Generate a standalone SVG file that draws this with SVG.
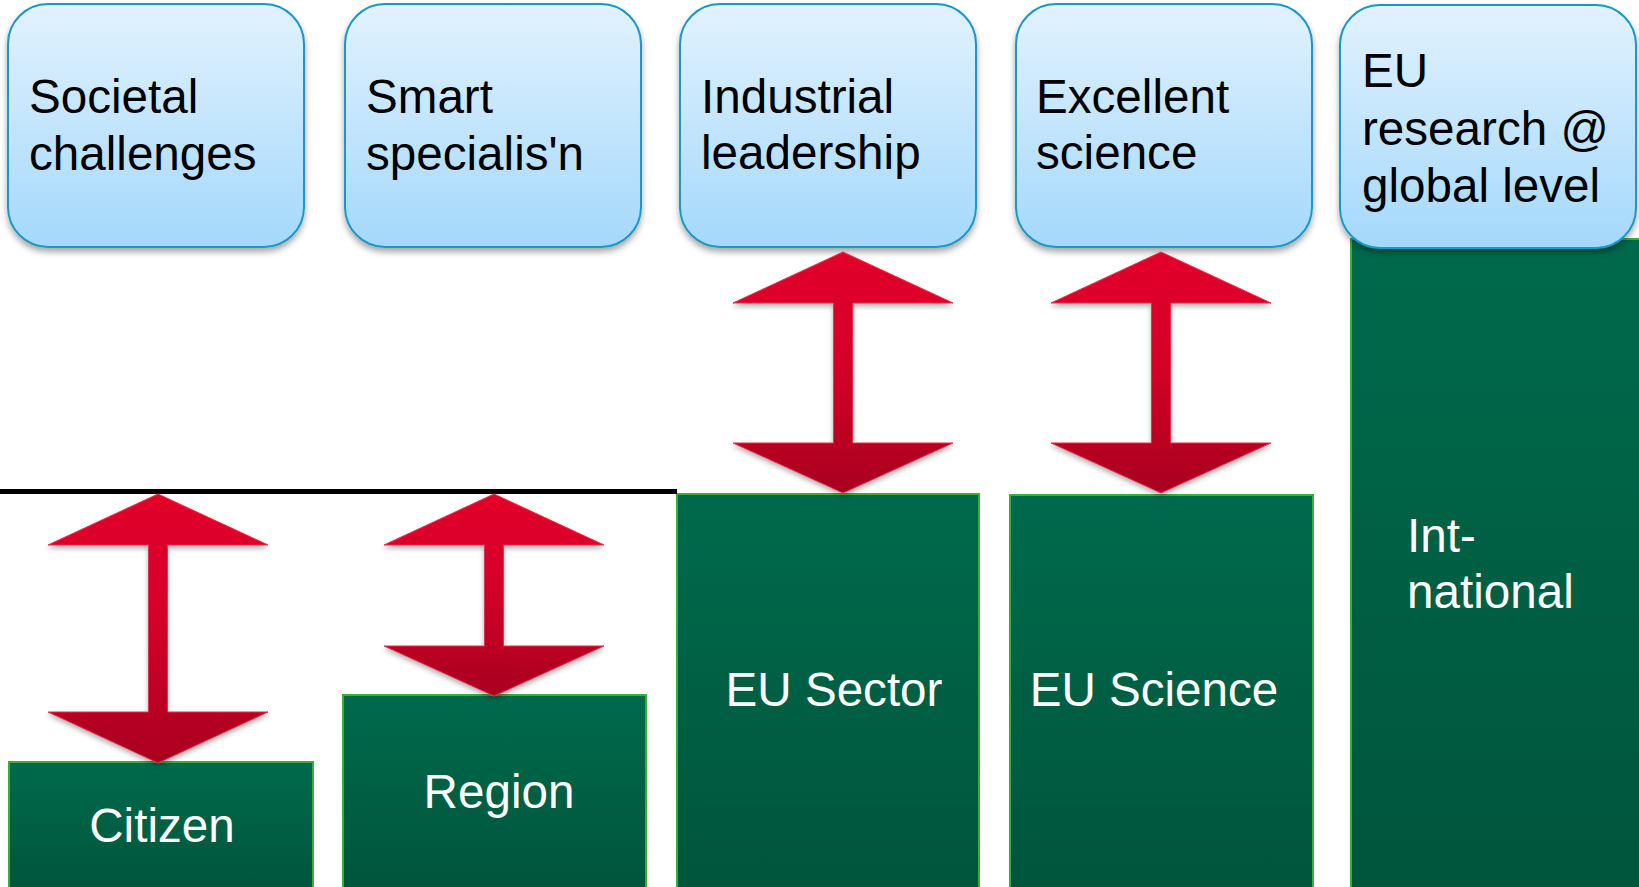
<svg xmlns="http://www.w3.org/2000/svg" width="1639" height="887" viewBox="0 0 1639 887">
  <defs>
    <linearGradient id="gBlue" x1="0" y1="0" x2="0" y2="1">
      <stop offset="0" stop-color="#e2f2fd"/>
      <stop offset="1" stop-color="#a4d8fb"/>
    </linearGradient>
    <linearGradient id="gGreen" x1="0" y1="0" x2="0" y2="1">
      <stop offset="0" stop-color="#006a4c"/>
      <stop offset="1" stop-color="#00553b"/>
    </linearGradient>
    <linearGradient id="gRed" x1="0" y1="0" x2="0" y2="1">
      <stop offset="0" stop-color="#e2002b"/>
      <stop offset="0.5" stop-color="#d20028"/>
      <stop offset="1" stop-color="#a8001f"/>
    </linearGradient>
    <filter id="shadow" x="-10%" y="-10%" width="120%" height="130%">
      <feDropShadow dx="0" dy="4" stdDeviation="3" flood-color="#000" flood-opacity="0.35"/>
    </filter>
    <filter id="ashadow" x="-10%" y="-10%" width="120%" height="130%">
      <feDropShadow dx="0" dy="3" stdDeviation="2.5" flood-color="#000" flood-opacity="0.3"/>
    </filter>
  </defs>
  <style>
    .top rect { fill: url(#gBlue); stroke: #1a98c6; stroke-width: 2; filter: url(#shadow); }
    .top text { font-family: "Liberation Sans", Arial, sans-serif; font-size: 47.6px; fill: #000; }
    .base rect { fill: url(#gGreen); stroke: #3cae38; stroke-width: 2; }
    .base text { font-family: "Liberation Sans", Arial, sans-serif; font-size: 47.6px; fill: #fff; }
    .arrow { fill: url(#gRed); stroke: #e8304c; stroke-width: 1; filter: url(#ashadow); }
  </style>
  <rect width="1639" height="887" fill="#fff"/>

  <!-- bottom green boxes -->
  <g id="citizen" class="base">
    <rect x="9" y="762" width="304" height="130"/>
    <text x="162" y="842" text-anchor="middle">Citizen</text>
  </g>
  <g id="region" class="base">
    <rect x="343" y="695" width="303" height="195"/>
    <text x="499" y="808" text-anchor="middle">Region</text>
  </g>
  <g id="eu-sector" class="base">
    <rect x="677" y="494" width="302" height="396"/>
    <text x="834" y="706" text-anchor="middle">EU Sector</text>
  </g>
  <g id="eu-science" class="base">
    <rect x="1010" y="495" width="303" height="395"/>
    <text x="1154" y="706" text-anchor="middle">EU Science</text>
  </g>
  <g id="international" class="base">
    <rect x="1351" y="239" width="295" height="651"/>
    <text x="1407" y="552">Int-</text>
    <text x="1407" y="608">national</text>
  </g>

  <!-- top blue boxes -->
  <g id="societal" class="top">
    <rect x="8" y="4" width="296" height="243" rx="40"/>
    <text x="29" y="113">Societal</text>
    <text x="29" y="170">challenges</text>
  </g>
  <g id="smart" class="top">
    <rect x="345" y="4" width="296" height="243" rx="40"/>
    <text x="366" y="113">Smart</text>
    <text x="366" y="170">specialis'n</text>
  </g>
  <g id="industrial" class="top">
    <rect x="680" y="4" width="296" height="243" rx="40"/>
    <text x="701" y="113">Industrial</text>
    <text x="701" y="169">leadership</text>
  </g>
  <g id="excellent" class="top">
    <rect x="1016" y="4" width="296" height="243" rx="40"/>
    <text x="1036" y="113">Excellent</text>
    <text x="1036" y="169">science</text>
  </g>
  <g id="eu-research" class="top">
    <rect x="1340" y="5" width="296" height="243" rx="40"/>
    <text x="1362" y="87">EU</text>
    <text x="1362" y="145">research @</text>
    <text x="1362" y="202">global level</text>
  </g>

  <!-- connectors -->
  <g id="connectors">
    <line x1="0" y1="491.5" x2="677" y2="491.5" stroke="#000" stroke-width="5"/>
    <path class="arrow" d="M158,494 L268,545 L167.5,545 L167.5,712 L268,712 L158,763 L48,712 L148.5,712 L148.5,545 L48,545 Z"/>
    <path class="arrow" d="M494,494 L604,545 L503.5,545 L503.5,646 L604,646 L494,696 L384,646 L484.5,646 L484.5,545 L384,545 Z"/>
    <path class="arrow" d="M843,252 L953,303 L852.5,303 L852.5,443 L953,443 L843,493 L733,443 L833.5,443 L833.5,303 L733,303 Z"/>
    <path class="arrow" d="M1161,252 L1271,303 L1170.5,303 L1170.5,443 L1271,443 L1161,493 L1051,443 L1151.5,443 L1151.5,303 L1051,303 Z"/>
  </g>
</svg>
